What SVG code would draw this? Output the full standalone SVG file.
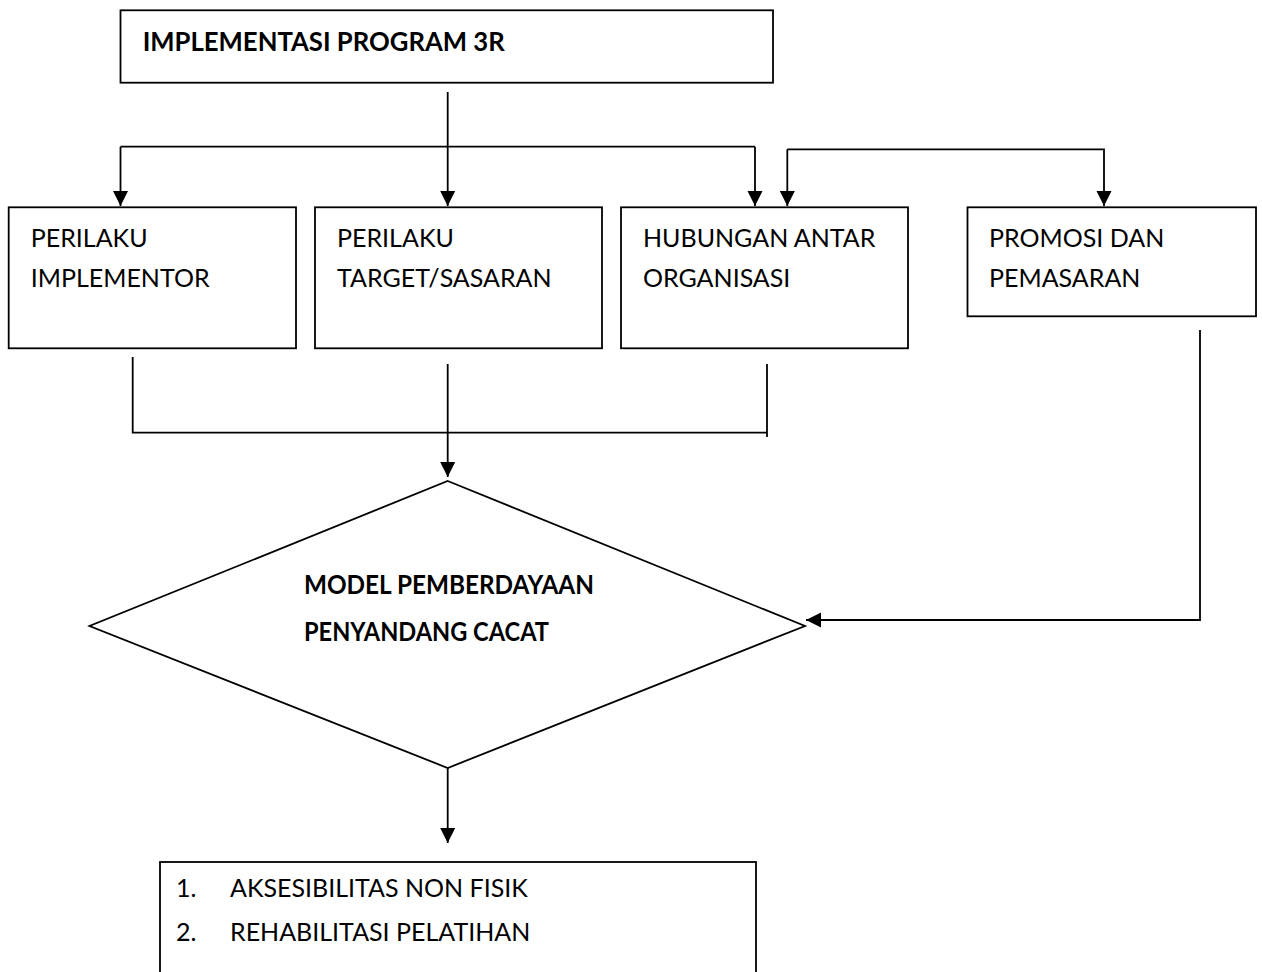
<svg xmlns="http://www.w3.org/2000/svg" width="1262" height="972" viewBox="0 0 1262 972">
<style>
.box{fill:#fff;stroke:#000;stroke-width:1.8}
.ln{fill:none;stroke:#000;stroke-width:1.8}
.t{font-family:Lato,"Liberation Sans",sans-serif;font-size:25px;fill:#000}
.b{font-family:Lato,"Liberation Sans",sans-serif;font-size:26px;font-weight:bold;fill:#000}
</style>
<defs>
<marker id="ah" markerUnits="userSpaceOnUse" markerWidth="16" markerHeight="16" viewBox="0 0 16 16" refX="15" refY="8" orient="auto">
<path d="M0,0.5 L15,8 L0,15.5 Z" fill="#000"/>
</marker>
</defs>
<rect width="1262" height="972" fill="#fff"/>
<g id="connectors">
<path class="ln" d="M447.7,92 V206" marker-end="url(#ah)"/>
<path class="ln" d="M120.5,146.7 H755"/>
<path class="ln" d="M120.5,146.7 V206" marker-end="url(#ah)"/>
<path class="ln" d="M755,146.7 V206" marker-end="url(#ah)"/>
<path class="ln" d="M787.3,149.3 V206" marker-end="url(#ah)"/>
<path class="ln" d="M787.3,149.3 H1104 V206" marker-end="url(#ah)"/>
<path class="ln" d="M132.7,357 V432.7 H767"/>
<path class="ln" d="M767,364 V437"/>
<path class="ln" d="M447.7,364 V477" marker-end="url(#ah)"/>
<path class="ln" d="M1200,330 V620 H806" marker-end="url(#ah)"/>
<path class="ln" d="M447.7,768 V843" marker-end="url(#ah)"/>
</g>
<g id="n-implementasi">
<rect class="box" x="120.5" y="10.3" width="652.5" height="72.4"/>
<text class="b" x="142.7" y="50.7" textLength="362" lengthAdjust="spacingAndGlyphs">IMPLEMENTASI PROGRAM 3R</text>
</g>
<g id="n-implementor">
<rect class="box" x="8.7" y="207.3" width="287.3" height="141"/>
<text class="t" x="30.7" y="246.7">PERILAKU</text>
<text class="t" x="30.7" y="287.3">IMPLEMENTOR</text>
</g>
<g id="n-target">
<rect class="box" x="315" y="207.3" width="287" height="141"/>
<text class="t" x="337" y="246.7">PERILAKU</text>
<text class="t" x="337" y="287.3">TARGET/SASARAN</text>
</g>
<g id="n-hubungan">
<rect class="box" x="621" y="207.3" width="287" height="141"/>
<text class="t" x="643" y="246.7">HUBUNGAN ANTAR</text>
<text class="t" x="643" y="287.3">ORGANISASI</text>
</g>
<g id="n-promosi">
<rect class="box" x="967.5" y="207.3" width="288.5" height="109"/>
<text class="t" x="989" y="246.7">PROMOSI DAN</text>
<text class="t" x="989" y="287.3">PEMASARAN</text>
</g>
<g id="n-model">
<polygon class="box" points="447.7,481 805,626 447.7,768 89.5,626"/>
<text class="b" x="304" y="594" textLength="290" lengthAdjust="spacingAndGlyphs">MODEL PEMBERDAYAAN</text>
<text class="b" x="304" y="641" textLength="245" lengthAdjust="spacingAndGlyphs">PENYANDANG CACAT</text>
</g>
<g id="n-hasil">
<rect class="box" x="160" y="862" width="596" height="130"/>
<text class="t" x="176" y="897">1.</text>
<text class="t" x="230" y="897">AKSESIBILITAS NON FISIK</text>
<text class="t" x="176" y="941">2.</text>
<text class="t" x="230" y="941">REHABILITASI PELATIHAN</text>
</g>
</svg>
